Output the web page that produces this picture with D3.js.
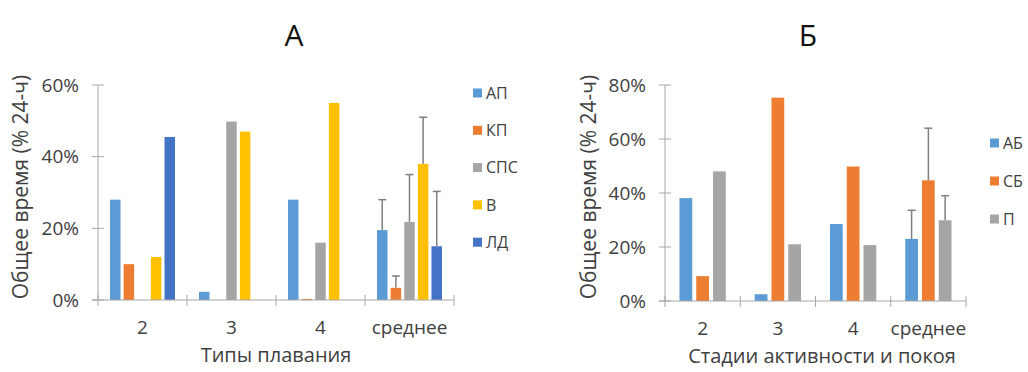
<!DOCTYPE html>
<html>
<head>
<meta charset="utf-8">
<script src="https://cdn.jsdelivr.net/npm/d3@7"></script>
<style>
  body { margin: 0; background: #fff; }
  svg { font-family: "Open Sans", sans-serif; }
  .tick-label { fill: #404040; font-size: 19px; }
  .axis-title { fill: #404040; font-size: 20px; }
  .y-title { font-size: 21px; }
  .legend-label { fill: #404040; font-size: 16px; }
  .panel-title { fill: #111; font-size: 30px; }
</style>
</head>
<body>
<svg id="chart" width="1028" height="372"></svg>
<script>
// categories shared by both panels
const categories = ['2', '3', '4', 'среднее'];

// panel A: swimming types
const seriesA = ['АП', 'КП', 'СПС', 'В', 'ЛД'];
const colorsA = ['#5b9bd5', '#ed7d31', '#a5a5a5', '#ffc000', '#4472c4'];
const valuesA = [
    [28, 2.3, 28, 19.5],    // АП
    [10, 0, 0.3, 3.4],      // КП
    [0, 49.8, 16, 21.8],    // СПС
    [12, 47, 55, 38],       // В
    [45.5, 0, 0, 15]        // ЛД
];
const errTopA = [28, 6.7, 35, 51, 30.3];   // upper error bar, "среднее" only
const ticksA = [0, 20, 40, 60];

// panel B: activity and rest stages
const seriesB = ['АБ', 'СБ', 'П'];
const colorsB = ['#5b9bd5', '#ed7d31', '#a5a5a5'];
const valuesB = [
    [38.1, 2.5, 28.5, 23],  // АБ
    [9.2, 75.3, 49.8, 44.7],// СБ
    [48, 21, 20.7, 29.9]    // П
];
const errTopB = [33.6, 64, 39];
const ticksB = [0, 20, 40, 60, 80];

const svg = d3.select('#chart');

function drawPanel(cfg) {
    const g = svg.append('g');
    const axisColor = '#a6a6a6';

    const y = d3.scaleLinear().domain([0, cfg.yMax]).range([cfg.bottom, cfg.top]);
    const x = d3.scaleBand().domain(categories).range([cfg.left, cfg.right]).padding(0);
    const groupW = x.bandwidth() * cfg.groupFrac;
    const xs = d3.scaleBand().domain(cfg.series)
        .range([0, groupW]).paddingInner(cfg.barPad);

    // title
    g.append('text')
        .attr('class', 'panel-title')
        .attr('x', cfg.titleX)
        .attr('y', 46)
        .attr('text-anchor', 'middle')
        .text(cfg.title);

    // y axis line + crossing ticks
    g.append('line')
        .attr('x1', cfg.left).attr('x2', cfg.left)
        .attr('y1', y(cfg.yMax)).attr('y2', cfg.bottom)
        .attr('stroke', axisColor);
    g.selectAll('.ytick').data(cfg.ticks).join('line')
        .attr('x1', cfg.left - 6).attr('x2', cfg.left + 6)
        .attr('y1', d => y(d)).attr('y2', d => y(d))
        .attr('stroke', axisColor);
    g.selectAll('.ylab').data(cfg.ticks).join('text')
        .attr('class', 'tick-label')
        .attr('x', cfg.left - 19)
        .attr('y', d => y(d))
        .attr('dy', '0.35em')
        .attr('text-anchor', 'end')
        .text(d => d + '%');

    // bars
    cfg.series.forEach((s, i) => {
        g.selectAll('.bar-' + i)
            .data(categories.map((c, j) => ({ c: c, v: cfg.values[i][j] })))
            .join('rect')
            .attr('x', d => x(d.c) + (x.bandwidth() - groupW) / 2 + xs(s))
            .attr('width', xs.bandwidth())
            .attr('y', d => y(d.v))
            .attr('height', d => cfg.bottom - y(d.v))
            .attr('fill', cfg.colors[i]);
    });

    // error bars on "среднее"
    const mean = categories[categories.length - 1];
    cfg.series.forEach((s, i) => {
        const cx = x(mean) + (x.bandwidth() - groupW) / 2 + xs(s) + xs.bandwidth() / 2;
        const v = cfg.values[i][categories.length - 1];
        g.append('line')
            .attr('x1', cx).attr('x2', cx)
            .attr('y1', y(v)).attr('y2', y(cfg.errTop[i]))
            .attr('stroke', '#7f7f7f').attr('stroke-width', 1.5);
        g.append('line')
            .attr('x1', cx - 4).attr('x2', cx + 4)
            .attr('y1', y(cfg.errTop[i])).attr('y2', y(cfg.errTop[i]))
            .attr('stroke', '#7f7f7f').attr('stroke-width', 1.5);
    });

    // x axis line + boundary ticks
    g.append('line')
        .attr('x1', cfg.left - 6).attr('x2', cfg.right)
        .attr('y1', cfg.bottom).attr('y2', cfg.bottom)
        .attr('stroke', axisColor);
    const bounds = categories.map(c => x(c)).concat([cfg.right]);
    g.selectAll('.xtick').data(bounds).join('line')
        .attr('x1', d => d).attr('x2', d => d)
        .attr('y1', cfg.bottom - 5).attr('y2', cfg.bottom + 6)
        .attr('stroke', axisColor);
    g.selectAll('.xlab').data(categories).join('text')
        .attr('class', 'tick-label')
        .attr('x', d => x(d) + x.bandwidth() / 2)
        .attr('y', cfg.bottom + 34)
        .attr('text-anchor', 'middle')
        .text(d => d);

    // axis titles
    g.append('text')
        .attr('class', 'axis-title')
        .attr('x', cfg.xTitleX)
        .attr('y', cfg.bottom + 62)
        .attr('text-anchor', 'middle')
        .text(cfg.xTitle);
    const ytx = cfg.yTitleX, yty = 187;
    g.append('text')
        .attr('class', 'axis-title y-title')
        .attr('x', ytx).attr('y', yty)
        .attr('text-anchor', 'middle')
        .attr('transform', `rotate(-90, ${ytx}, ${yty})`)
        .text('Общее время (% 24-ч)');

    // legend
    const lg = g.selectAll('.legend').data(cfg.series).join('g')
        .attr('transform', (d, i) => `translate(${cfg.legendX}, ${cfg.legendY + i * cfg.legendStep})`);
    lg.append('rect')
        .attr('x', 0).attr('y', -4.5)
        .attr('width', 9).attr('height', 9)
        .attr('fill', (d, i) => cfg.colors[i]);
    lg.append('text')
        .attr('class', 'legend-label')
        .attr('x', 13).attr('dy', '0.35em')
        .text(d => d);
}

drawPanel({
    title: 'А', titleX: 294,
    left: 98, right: 454, top: 85, bottom: 300, yMax: 60,
    ticks: ticksA, series: seriesA, colors: colorsA, values: valuesA, errTop: errTopA,
    groupFrac: 0.73, barPad: 0.23,
    xTitle: 'Типы плавания', xTitleX: 276, yTitleX: 28,
    legendX: 473, legendY: 93, legendStep: 37.3
});

drawPanel({
    title: 'Б', titleX: 808,
    left: 665, right: 966, top: 85, bottom: 301, yMax: 80,
    ticks: ticksB, series: seriesB, colors: colorsB, values: valuesB, errTop: errTopB,
    groupFrac: 0.615, barPad: 0.24,
    xTitle: 'Стадии активности и покоя', xTitleX: 822, yTitleX: 596,
    legendX: 990, legendY: 143, legendStep: 38
});
</script>
</body>
</html>
